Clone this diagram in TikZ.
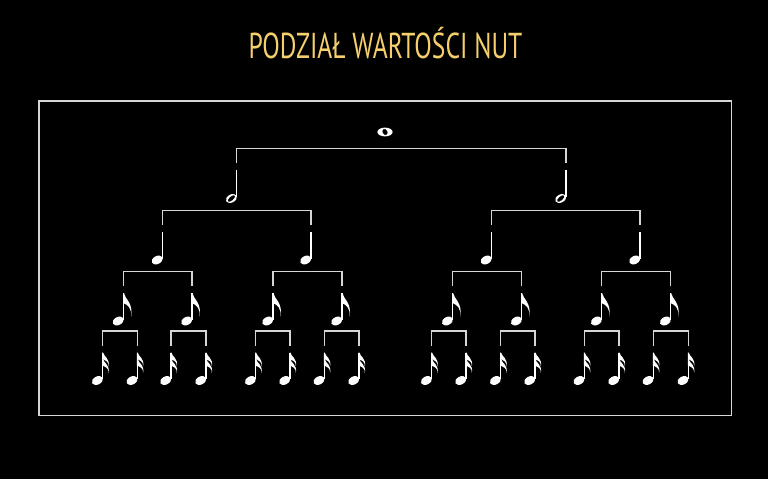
\documentclass[tikz,border=0pt]{standalone}
\usepackage{fontspec}
\usepackage{graphicx}
\newfontfamily\titlefont{PT Sans}
\usetikzlibrary{calc}
\definecolor{titleyellow}{HTML}{F4CF6B}
\definecolor{linegray}{HTML}{D6D6D6}
\tikzset{
  bracket/.style={draw=linegray, line width=1.4pt},
  framebox/.style={draw=linegray, line width=1.5pt},
  stemline/.style={draw=white, line width=1.2pt},
  titlestyle/.style={text=titleyellow, inner sep=0pt, anchor=base, font=\titlefont\fontsize{36}{36}\selectfont},
  pics/headfill/.style={code={
    \fill[white, shift={(-5.3,28)}, rotate=28] (0,0) ellipse [x radius=5.9, y radius=4];
  }},
  pics/flagone/.style={code={
    \fill[white] (-0.5,0) -- (0.4,0) .. controls (1.2,6) and (10,9.5) .. (7.6,24)
      .. controls (8.6,15) and (4,11.5) .. (-0.5,10) -- cycle;
  }},
  pics/flagsmall/.style={code={
    \fill[white] (-0.5,0) -- (0.4,0) .. controls (1,4) and (7.5,6) .. (5.8,14)
      .. controls (6.2,9) and (3,8) .. (-0.5,6.5) -- cycle;
  }},
  pics/wholenote/.style={code={
    \fill[white, even odd rule] (0,0) ellipse [x radius=7.6, y radius=4.4]
      {[rotate=-60] (0,0) ellipse [x radius=3.3, y radius=2.5]};
  }},
  pics/halfnote/.style={code={
    \draw[stemline] (0,0) -- (0,27);
    \fill[white, even odd rule, shift={(-5.3,28.5)}, rotate=28]
      (0,0) ellipse [x radius=5.9, y radius=4]
      {[rotate=12] (0,0) ellipse [x radius=4.5, y radius=2.1]};
  }},
  pics/quarternote/.style={code={
    \draw[stemline] (0,0) -- (0,26.5);
    \pic {headfill};
  }},
  pics/eighthnote/.style={code={
    \draw[stemline] (0,0) -- (0,26.5);
    \pic {headfill};
    \pic {flagone};
  }},
  pics/sixteenthnote/.style={code={
    \draw[stemline] (0,0) -- (0,26.5);
    \pic {headfill};
    \pic {flagsmall};
    \pic at (0,6.5) {flagsmall};
  }},
}
\newcommand{\brk}[2]{\draw[bracket] ($(#1)+(0,-7)$) |- ($(#2)+(0,-21.5)$) -- ($(#2)+(0,-7)$);}
\begin{document}
\begin{tikzpicture}[x=1pt, y=-1pt]
  \fill[black] (0,0) rectangle (768,479);
  \useasboundingbox (0,0) rectangle (768,479);
  \node[titlestyle] (title) at (385.5,58) {\scalebox{0.71}[1]{PODZIAŁ WARTOŚCI NUT}};
  \draw[framebox] (39,101) rectangle (731.5,415.5);
  % level 0
  \coordinate (w) at (385,132);
  \pic at (w) {wholenote};
  % level 1
  \coordinate (h1) at (236.7,170);
  \coordinate (h2) at (566,170);
  \foreach \n in {h1,h2} {\pic at (\n) {halfnote};}
  % level 2
  \coordinate (q1) at (162.5,232);
  \coordinate (q2) at (311,232);
  \coordinate (q3) at (491.5,232);
  \coordinate (q4) at (640,232);
  \foreach \n in {q1,q2,q3,q4} {\pic at (\n) {quarternote};}
  % level 3
  \coordinate (e1) at (123.5,293);
  \coordinate (e2) at (192,293);
  \coordinate (e3) at (273,293);
  \coordinate (e4) at (342,293);
  \coordinate (e5) at (452.7,293);
  \coordinate (e6) at (521.7,293);
  \coordinate (e7) at (601.7,293);
  \coordinate (e8) at (670.7,293);
  \foreach \n in {e1,e2,e3,e4,e5,e6,e7,e8} {\pic at (\n) {eighthnote};}
  % level 4
  \coordinate (s1) at (102.7,352.5);
  \coordinate (s2) at (137.3,352.5);
  \coordinate (s3) at (171,352.5);
  \coordinate (s4) at (206,352.5);
  \coordinate (s5) at (255.7,352.5);
  \coordinate (s6) at (290,352.5);
  \coordinate (s7) at (324.3,352.5);
  \coordinate (s8) at (359,352.5);
  \coordinate (s9) at (431.7,352.5);
  \coordinate (s10) at (466,352.5);
  \coordinate (s11) at (500.7,352.5);
  \coordinate (s12) at (535,352.5);
  \coordinate (s13) at (584.3,352.5);
  \coordinate (s14) at (619,352.5);
  \coordinate (s15) at (653.3,352.5);
  \coordinate (s16) at (688.3,352.5);
  \foreach \n in {s1,s2,s3,s4,s5,s6,s7,s8,s9,s10,s11,s12,s13,s14,s15,s16} {\pic at (\n) {sixteenthnote};}
  % brackets
  \brk{h1}{h2}
  \brk{q1}{q2}
  \brk{q3}{q4}
  \brk{e1}{e2}
  \brk{e3}{e4}
  \brk{e5}{e6}
  \brk{e7}{e8}
  \brk{s1}{s2}
  \brk{s3}{s4}
  \brk{s5}{s6}
  \brk{s7}{s8}
  \brk{s9}{s10}
  \brk{s11}{s12}
  \brk{s13}{s14}
  \brk{s15}{s16}
\end{tikzpicture}
\end{document}
